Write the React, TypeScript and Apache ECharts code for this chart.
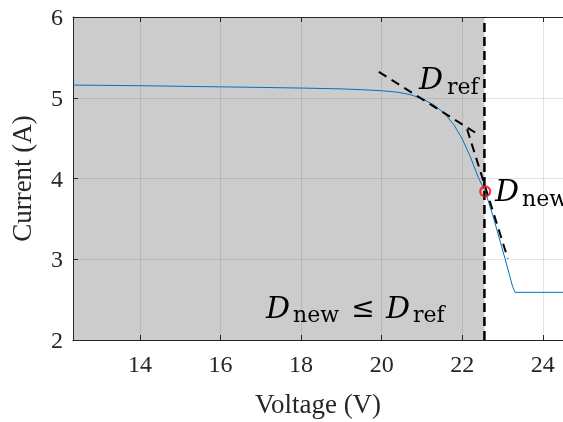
import React, { useEffect, useRef } from "react";
import * as echarts from "echarts";

const voltage = [12.34, 13, 14, 15, 15.5, 16, 17, 18, 19, 19.5, 20, 20.4, 20.7, 21.0, 21.3, 21.55, 21.8, 22.0, 22.2, 22.4, 22.57, 22.76, 23.06, 23.25, 23.31, 24.5];
const current = [5.157, 5.154, 5.149, 5.142, 5.138, 5.135, 5.128, 5.12, 5.11, 5.1, 5.087, 5.068, 5.04, 4.99, 4.91, 4.81, 4.66, 4.49, 4.27, 4.01, 3.84, 3.54, 3.01, 2.66, 2.59, 2.59];
const xTicks = [14, 16, 18, 20, 22, 24];
const xRange = [12.34, 24.5];
const yRange = [2, 6];
const shadeRange = [12.34, 22.55];
const boundaryV = 22.55;
const tangentRef = [[19.93, 5.32], [22.32, 4.57]];
const tangentNew = [[22.12, 4.61], [23.13, 3.01]];
const pointNew = [22.57, 3.84];

const SERIF = "'Liberation Serif', 'Times New Roman', serif";
const MATH = "'DejaVu Serif', serif";
const TXT = "#262626";

export default function App() {
  const ref = useRef<HTMLDivElement>(null);
  useEffect(() => {
    const chart = echarts.init(ref.current!, null, { renderer: "svg" });
    const curve = voltage.map((v, i) => [v, current[i]]);
    const axisCommon = {
      type: "value",
      min: xRange[0],
      max: xRange[1],
      z: 1.5,
    };
    const text = (x: number, y: number, t: string, size: number, italic: boolean, align = "left") => ({
      type: "text",
      x,
      y,
      z: 100,
      style: {
        text: t,
        fill: "#000",
        font: `${italic ? "italic " : ""}${size}px ${MATH}`,
        textAlign: align,
        textVerticalAlign: "middle",
      },
    });
    chart.setOption({
      animation: false,
      grid: { left: 70, top: 17, right: 0, bottom: 80 },
      xAxis: [
        {
          ...axisCommon,
          position: "bottom",
          name: "Voltage (V)",
          nameLocation: "middle",
          nameGap: 50,
          nameTextStyle: { fontFamily: SERIF, fontSize: 27, color: TXT },
          axisLine: { show: true, lineStyle: { color: TXT, width: 1 } },
          axisTick: { show: true, inside: true, length: 5, customValues: xTicks, lineStyle: { color: TXT } },
          axisLabel: { customValues: xTicks, fontFamily: SERIF, fontSize: 24, color: TXT, margin: 12 },
          splitLine: { show: true, lineStyle: { color: "rgba(38,38,38,0.12)", width: 1 } },
        },
        {
          ...axisCommon,
          position: "top",
          axisLine: { show: true, lineStyle: { color: TXT, width: 1 } },
          axisTick: { show: true, inside: true, length: 5, customValues: xTicks, lineStyle: { color: TXT } },
          axisLabel: { show: false },
          splitLine: { show: false },
        },
      ],
      yAxis: {
        type: "value",
        min: yRange[0],
        max: yRange[1],
        interval: 1,
        z: 1.5,
        name: "Current (A)",
        nameLocation: "middle",
        nameGap: 38,
        nameTextStyle: { fontFamily: SERIF, fontSize: 27, color: TXT },
        axisLine: { show: true, lineStyle: { color: TXT, width: 1 } },
        axisTick: { show: true, inside: true, length: 5, lineStyle: { color: TXT } },
        axisLabel: { fontFamily: SERIF, fontSize: 24, color: TXT, margin: 10 },
        splitLine: { show: true, lineStyle: { color: "rgba(38,38,38,0.12)", width: 1 } },
      },
      series: [
        {
          type: "line",
          data: [],
          z: 1,
          markArea: {
            silent: true,
            z: 1,
            itemStyle: { color: "#cccccc" },
            data: [[{ xAxis: shadeRange[0] }, { xAxis: shadeRange[1] }]],
          },
        },
        {
          type: "line",
          data: curve,
          showSymbol: false,
          symbol: "none",
          z: 3,
          lineStyle: { color: "#0072BD", width: 1 },
        },
        {
          type: "line",
          data: [[boundaryV, yRange[0]], [boundaryV, yRange[1]]],
          symbol: "none",
          z: 4,
          lineStyle: { color: "#000", width: 2.5, type: [9, 5] },
        },
        {
          type: "line",
          data: tangentRef,
          symbol: "none",
          z: 4,
          lineStyle: { color: "#000", width: 2, type: [9, 6] },
        },
        {
          type: "line",
          data: tangentNew,
          symbol: "none",
          z: 4,
          lineStyle: { color: "#000", width: 2, type: [9, 6] },
        },
        {
          type: "scatter",
          data: [pointNew],
          symbol: "circle",
          symbolSize: 10,
          z: 5,
          itemStyle: { color: "rgba(0,0,0,0)", borderColor: "#ff0000", borderWidth: 2 },
        },
      ],
      graphic: [
        text(419, 78, "D", 30, true),
        text(447, 86, "ref", 22, false),
        text(495, 190, "D", 30, true),
        text(522, 198, "new", 22, false),
        text(266, 307, "D", 30, true),
        text(293, 314, "new", 22, false),
        text(363, 307, "≤", 28, false, "center"),
        text(386, 307, "D", 30, true),
        text(413, 314, "ref", 22, false),
      ],
    });
    return () => chart.dispose();
  }, []);
  return <div ref={ref} style={{ position: "fixed", left: 0, top: 0, width: 563, height: 422 }} />;
}
